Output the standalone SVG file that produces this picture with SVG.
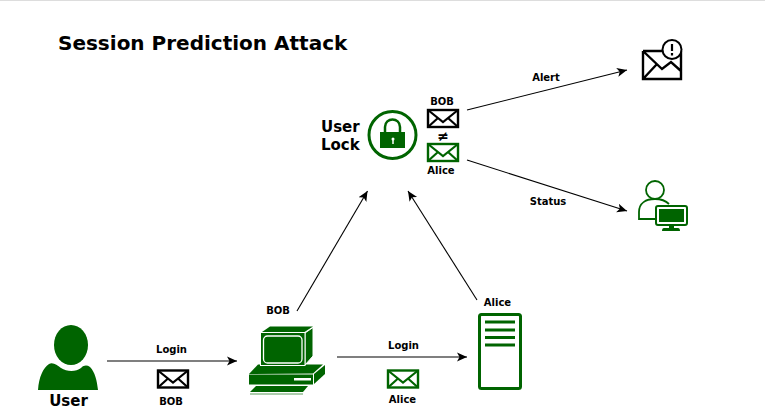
<svg xmlns="http://www.w3.org/2000/svg" width="765" height="420" viewBox="0 0 765 420">
<style>
text{font-family:"DejaVu Sans",sans-serif;font-weight:bold;fill:#000}
.s{font-size:10px;text-anchor:middle}
.m{font-size:15px}
.g{fill:#006400}
.c{fill:none;stroke:#000;stroke-width:1.1;marker-end:url(#a)}
.env{fill:#fff;stroke-width:2.4}
.fl{fill:none;stroke-width:2.2}
.w{stroke:#fff;stroke-width:1}
</style>
<defs>
<marker id="a" markerUnits="userSpaceOnUse" markerWidth="12" markerHeight="11" refX="10" refY="5" orient="auto"><path d="M0 0.500L10 5L0 9.500L2.500 5Z" fill="#000"/></marker>
<g id="e"><rect class="env" x="0" y="0" width="30" height="17"/><path class="fl" d="M0 0L15 12L30 0M0 17L10 8M30 17L20 8"/></g>
</defs>
<rect x="0" y="0" width="765" height="420" fill="#fff"/>
<path d="M0 .5H765" stroke="#ddd" fill="none"/>
<text x="58" y="50" font-size="20">Session Prediction Attack</text>
<g id="connectors">
<path class="c" d="M107 361H237"/>
<path class="c" d="M337 357H467"/>
<path class="c" d="M297 311L367.500 191"/>
<path class="c" d="M477 300L408 191"/>
<path class="c" d="M467 110L627 70"/>
<path class="c" d="M467 160L627 211"/>
<text class="s" x="546" y="81">Alert</text>
<text class="s" x="548" y="205">Status</text>
<text class="s" x="171.500" y="353">Login</text>
<text class="s" x="403.500" y="349">Login</text>
</g>
<g id="user">
<ellipse class="g" cx="71" cy="345" rx="17" ry="20"/>
<path class="g" d="M38 390C39 377 43 368 49 364C53 362 57 365 61 368C67 372 76 372 81 368C84 365 87 365 90 367C95 372 97 381 98 390Z"/>
<text x="68.500" y="406" font-size="15" text-anchor="middle">User</text>
</g>
<g id="login-bob">
<use href="#e" x="158" y="370.500" stroke="#000"/>
<text class="s" x="171" y="405">BOB</text>
</g>
<g id="computer">
<text class="s" x="278" y="314">BOB</text>
<path class="g" d="M249 374L258 364.500H323L313 373.500Z"/>
<path class="g" d="M262 332L270 326.500H313L304.500 332Z"/>
<path class="g w" d="M305 333L313 327.500V356L305 365Z"/>
<rect x="260.500" y="332.500" width="44.500" height="33" class="g w"/>
<rect x="263.500" y="336" width="38.500" height="27" rx="4" fill="none" stroke="#fff" stroke-width="1.300"/>
<path class="g" d="M249 374.500H313V384.500H249Z"/>
<path class="g" d="M314 374L325 365V374L314 384Z"/>
<rect x="294" y="378" width="17" height="2.500" fill="#fff"/>
<path class="g" d="M256 386H308L303 392H250Z"/>
<path d="M250 394H303" stroke="#5a9a5a" stroke-width="1" fill="none"/>
</g>
<g id="login-alice">
<use href="#e" x="388" y="370.500" stroke="#006400"/>
<text class="s" x="402.500" y="403">Alice</text>
</g>
<g id="server">
<text class="s" x="497.500" y="306">Alice</text>
<rect x="479.500" y="314.500" width="41" height="74" rx="2" fill="#fff" stroke="#006400" stroke-width="3"/>
<path d="M485 322H515M485 330H515M485 337.500H515M485 345H515" stroke="#006400" stroke-width="2.800" fill="none"/>
</g>
<g id="user-lock">
<text class="m" x="321" y="132">User</text>
<text class="m" x="321" y="150">Lock</text>
<circle cx="392.500" cy="135" r="23.500" fill="none" stroke="#006400" stroke-width="3"/>
<rect x="380" y="132" width="25" height="16" class="g"/>
<path d="M385 132V127C385 117 400 117 400 127V132" fill="none" stroke="#006400" stroke-width="2.500"/>
<path d="M393 138V144" stroke="#fff" stroke-width="1.500"/>
<circle cx="393" cy="139" r="1.500" fill="#fff"/>
<text class="s" x="442" y="105">BOB</text>
<use href="#e" x="428" y="110" stroke="#000"/>
<text x="443" y="141" font-size="14" text-anchor="middle">≠</text>
<use href="#e" x="428" y="144" stroke="#006400"/>
<text class="s" x="441" y="174">Alice</text>
</g>
<g id="alert-mail">
<path d="M643 51V79H681V51M643 51H665M643 51L662 69L671 62L681 71M643 79L657 64" fill="none" stroke="#000" stroke-width="2.400"/>
<circle cx="672" cy="49.500" r="9.500" fill="#fff" stroke="#000" stroke-width="2"/>
<path d="M672 44V51M672 53V55.500" stroke="#000" stroke-width="2.200" fill="none"/>
</g>
<g id="status-user">
<circle cx="655" cy="190" r="9" fill="none" stroke="#006400" stroke-width="1.800"/>
<path d="M655 219H639V212C639 203 646 199 655 199C661 199 666 201 669 204" fill="none" stroke="#006400" stroke-width="1.800"/>
<rect x="656" y="206" width="31" height="19" rx="2" fill="#fff" stroke="#006400" stroke-width="2"/>
<rect x="659" y="209" width="25" height="13" class="g"/>
<path class="g" d="M669 226H674V228H678Q680 228 680 231H662Q662 228 664 228H669Z"/>
</g>
</svg>
